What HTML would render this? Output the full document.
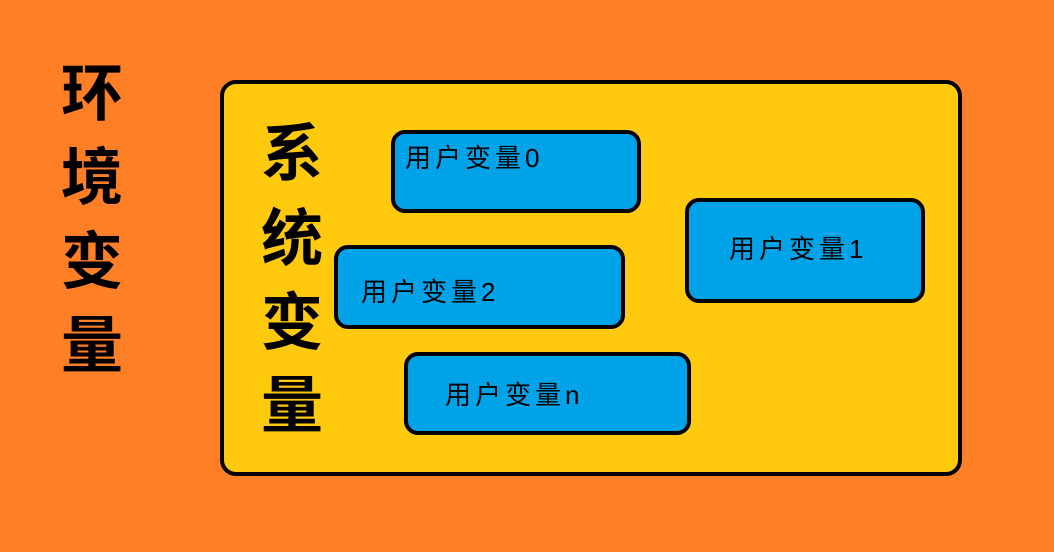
<!DOCTYPE html>
<html><head><meta charset="utf-8"><style>
body{margin:0;width:1054px;height:552px;background:#FF7F27;position:relative;overflow:hidden;font-family:"Liberation Sans","Noto Sans CJK SC",sans-serif;}
.c{position:absolute;width:80px;height:80px;line-height:80px;text-align:center;font-size:62px;font-weight:bold;color:#000;}
.outer{position:absolute;left:220px;top:80px;width:734px;height:388px;background:#FFC90E;border:4px solid #000;border-radius:16px;}
.b{position:absolute;background:#00A2E8;border:4px solid #000;border-radius:14px;box-sizing:border-box;}
.t{position:absolute;font-size:26px;color:#000;white-space:nowrap;line-height:30px;letter-spacing:4px;}
</style></head><body>
<div class="c" style="left:52px;top:55px">环</div>
<div class="c" style="left:52px;top:139px">境</div>
<div class="c" style="left:52px;top:223px">变</div>
<div class="c" style="left:52px;top:307px">量</div>
<div class="outer"></div>
<div class="c" style="left:252px;top:115px">系</div>
<div class="c" style="left:252px;top:200px">统</div>
<div class="c" style="left:252px;top:284px">变</div>
<div class="c" style="left:252px;top:367px">量</div>
<div class="b" style="left:391px;top:130px;width:250px;height:83px"></div>
<div class="t" style="left:405px;top:143px">用户变量0</div>
<div class="b" style="left:685px;top:198px;width:240px;height:105px"></div>
<div class="t" style="left:729px;top:234px">用户变量1</div>
<div class="b" style="left:334px;top:245px;width:291px;height:84px"></div>
<div class="t" style="left:361px;top:277px">用户变量2</div>
<div class="b" style="left:404px;top:352px;width:287px;height:83px"></div>
<div class="t" style="left:445px;top:380px">用户变量n</div>
</body></html>
